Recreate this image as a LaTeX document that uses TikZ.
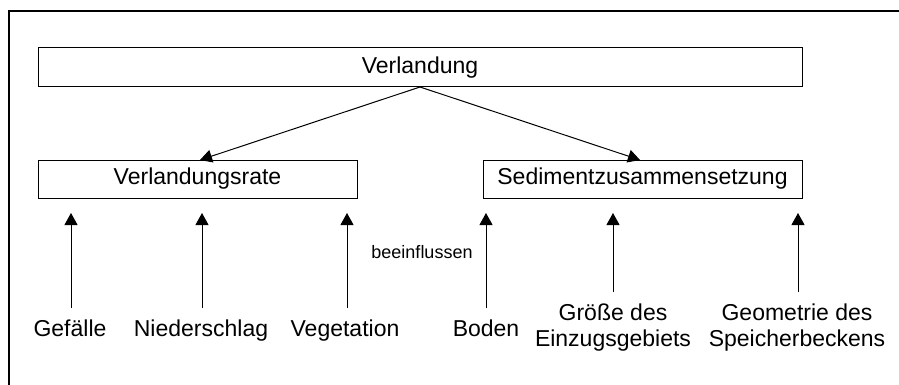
\documentclass[tikz,border=0pt]{standalone}
\usepackage{fontspec}
\setmainfont{Liberation Sans}
\usetikzlibrary{arrows.meta}
\begin{document}
\begin{tikzpicture}[x=1pt,y=-1pt,
  box/.style={draw=black,line width=1pt,inner sep=0pt,font=\fontsize{23}{27}\selectfont},
  lbl/.style={inner sep=0pt,align=center,font=\fontsize{23}{26}\selectfont},
  small/.style={inner sep=0pt,font=\fontsize{18}{21}\selectfont},
  arr/.style={line width=1pt,-{Triangle[length=12pt,width=13pt]}}]
\useasboundingbox (0,0) rectangle (899,385);
\draw[line width=1.2pt] (9,385) -- (9,11) -- (899,11);
% boxes
\node[box,minimum width=764pt,minimum height=39pt] (top) at (420,67.5) {Verlandung};
\node[box,minimum width=319pt,minimum height=38pt] (rate) at (197.5,179) {Verlandungsrate};
\node[box,minimum width=319pt,minimum height=38pt] (sed) at (642.5,179) {Sedimentzusammensetzung};
% diagonal arrows
\coordinate (src) at (420,87);
\coordinate (rt) at (200,160);
\coordinate (st) at (640,160);
\draw[arr] (src) -- (rt);
\draw[arr] (src) -- (st);
% bottom labels
\node[lbl,anchor=base] (gef) at (70,336) {Gefälle};
\node[lbl,anchor=base] (nied) at (201,336) {Niederschlag};
\node[lbl,anchor=base] (veg) at (345,336) {Vegetation};
\node[lbl,anchor=base] (bod) at (486,336) {Boden};
\node[lbl] (gro) at (613,328) {Größe des\\Einzugsgebiets};
\node[lbl] (geo) at (797,328) {Geometrie des\\Speicherbeckens};
\node[small,anchor=base] (bee) at (422,258) {beeinflussen};
% up arrows
\coordinate (t1) at (71,213);
\coordinate (t2) at (202,213);
\coordinate (t3) at (347,213);
\coordinate (t4) at (486,213);
\coordinate (t5) at (613,213);
\coordinate (t6) at (798,213);
\draw[arr] (71,308) -- (t1);
\draw[arr] (202,308) -- (t2);
\draw[arr] (347,308) -- (t3);
\draw[arr] (486,308) -- (t4);
\draw[arr] (613,292) -- (t5);
\draw[arr] (798,292) -- (t6);
\end{tikzpicture}
\end{document}
